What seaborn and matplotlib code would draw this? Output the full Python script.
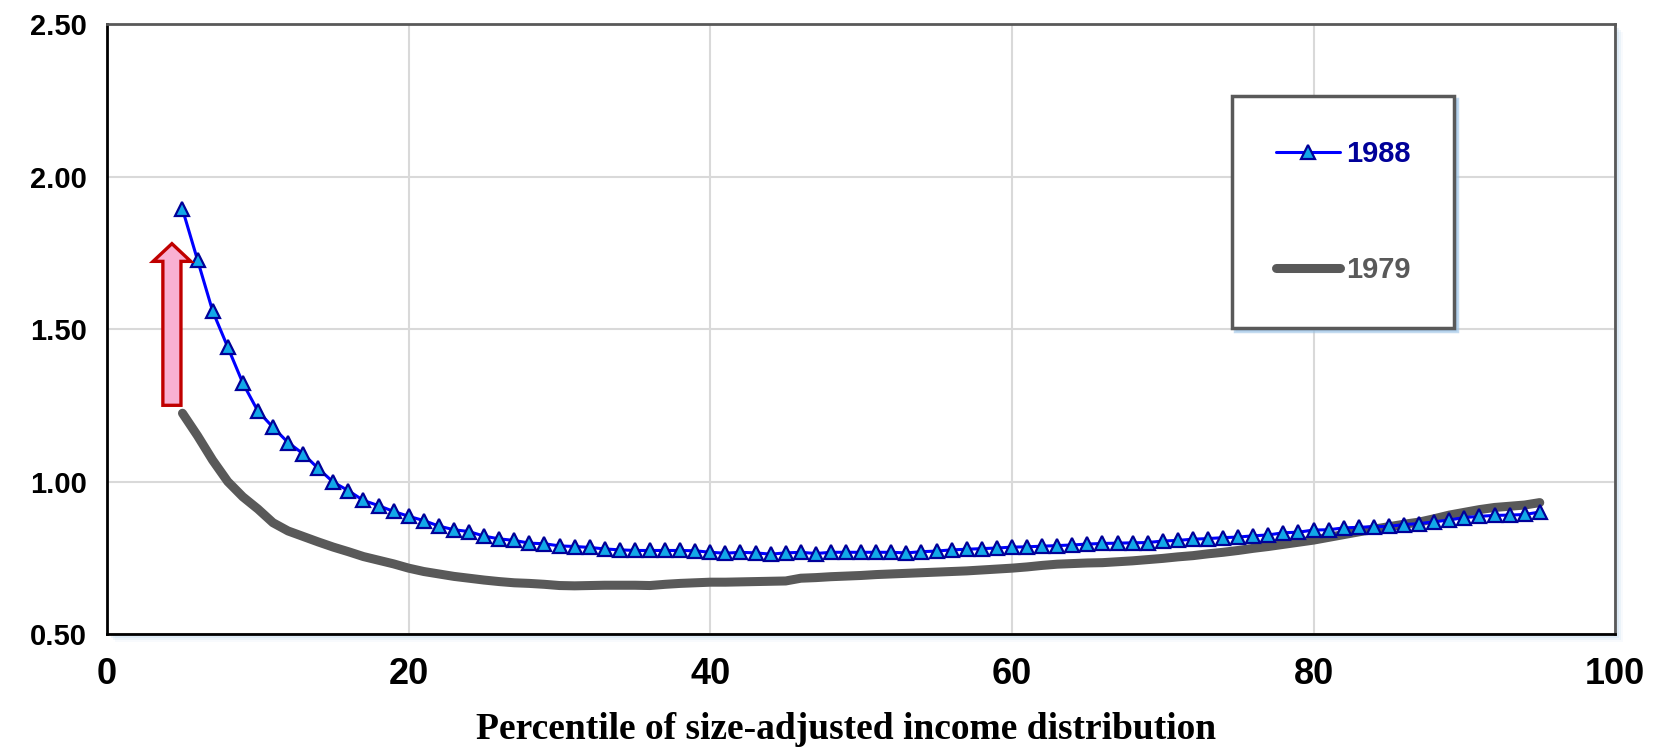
import matplotlib
matplotlib.use("Agg")
import matplotlib.pyplot as plt
from matplotlib.patches import FancyArrow, Rectangle
from matplotlib.ticker import MultipleLocator, FormatStrFormatter
import seaborn as sns
import pandas as pd

# percentiles of the size-adjusted income distribution
pct = list(range(5, 96))

vals_1988 = [
    1.893, 1.726, 1.559, 1.441, 1.323, 1.231, 1.178, 1.128, 1.091, 1.043,
    0.998, 0.970, 0.938, 0.921, 0.902, 0.886, 0.872, 0.854, 0.842, 0.836,
    0.821, 0.812, 0.807, 0.798, 0.796, 0.789, 0.787, 0.784, 0.779, 0.776,
    0.774, 0.774, 0.774, 0.774, 0.773, 0.768, 0.765, 0.768, 0.766, 0.762,
    0.766, 0.768, 0.764, 0.768, 0.768, 0.768, 0.768, 0.768, 0.766, 0.770,
    0.772, 0.776, 0.778, 0.780, 0.782, 0.785, 0.786, 0.788, 0.790, 0.792,
    0.795, 0.797, 0.798, 0.799, 0.800, 0.805, 0.807, 0.811, 0.813, 0.816,
    0.818, 0.822, 0.825, 0.832, 0.834, 0.841, 0.842, 0.848, 0.850, 0.852,
    0.853, 0.859, 0.862, 0.868, 0.874, 0.882, 0.886, 0.889, 0.890, 0.892,
    0.900,
]

vals_1979 = [
    1.224, 1.150, 1.070, 1.000, 0.950, 0.910, 0.865, 0.838, 0.820, 0.802,
    0.785, 0.770, 0.754, 0.742, 0.730, 0.716, 0.705, 0.697, 0.689, 0.683,
    0.677, 0.672, 0.668, 0.666, 0.663, 0.659, 0.658, 0.659, 0.660, 0.660,
    0.660, 0.659, 0.663, 0.666, 0.668, 0.670, 0.670, 0.671, 0.672, 0.673,
    0.674, 0.683, 0.685, 0.688, 0.690, 0.692, 0.695, 0.697, 0.699, 0.701,
    0.703, 0.705, 0.707, 0.710, 0.713, 0.716, 0.720, 0.725, 0.729, 0.731,
    0.733, 0.734, 0.737, 0.740, 0.744, 0.748, 0.753, 0.757, 0.763, 0.768,
    0.774, 0.781, 0.787, 0.794, 0.801, 0.808, 0.817, 0.826, 0.835, 0.844,
    0.852, 0.860, 0.867, 0.878, 0.890, 0.899, 0.908, 0.915, 0.919, 0.923,
    0.931,
]

x_ticks = [0, 20, 40, 60, 80, 100]
y_ticks = [0.50, 1.00, 1.50, 2.00, 2.50]

# arrow marking the rise at the bottom of the distribution
arrow_x = 4.3
arrow_from = 1.25
arrow_to = 1.78

sns.set_style("white")
plt.rcParams["font.family"] = ["Liberation Sans", "DejaVu Sans"]
plt.rcParams["text.color"] = "black"
plt.rcParams["axes.labelcolor"] = "black"
plt.rcParams["xtick.color"] = "black"
plt.rcParams["ytick.color"] = "black"

df88 = pd.DataFrame({"pct": pct, "ratio": vals_1988})
df79 = pd.DataFrame({"pct": pct, "ratio": vals_1979})

fig = plt.figure(figsize=(16.6, 7.53), dpi=100)
ax = fig.add_axes([0.0645, 0.158, 0.9085, 0.810])

# light blue drop shadow right/bottom of plot area
for i, a in enumerate([0.25, 0.18, 0.12, 0.07]):
    off = (i + 1) * 2.0
    fig.patches.append(Rectangle(
        (0.0645 + off / 1660, 0.158 - off / 753), 0.9085, 0.810,
        transform=fig.transFigure, facecolor="#9cc3e6", alpha=a,
        edgecolor="none", zorder=-5))

ax.set_facecolor("white")

sns.lineplot(data=df79, x="pct", y="ratio", ax=ax, color="#595959",
             linewidth=6.5, label="1979", solid_capstyle="round", zorder=3)
sns.lineplot(data=df88, x="pct", y="ratio", ax=ax, color="#0000ff",
             linewidth=2.2, marker="^", markersize=10,
             markerfacecolor="#12a8e8", markeredgecolor="#000099",
             markeredgewidth=1.6, label="1988", zorder=4)

ax.add_patch(FancyArrow(arrow_x, arrow_from, 0, arrow_to - arrow_from,
                        width=1.2, head_width=2.5, head_length=0.058,
                        length_includes_head=True, facecolor="#f9b0d2",
                        edgecolor="#c00000", linewidth=2.4, zorder=5))

ax.set_xlim(0, 100)
ax.set_ylim(0.5, 2.5)
ax.set_xticks(x_ticks)
ax.set_yticks(y_ticks)
ax.xaxis.set_minor_locator(MultipleLocator(5))
ax.yaxis.set_minor_locator(MultipleLocator(0.1))
ax.yaxis.set_major_formatter(FormatStrFormatter("%.2f"))

ax.grid(True, which="major", color="#d9d9d9", linewidth=1.5)
ax.set_axisbelow(True)

ax.tick_params(axis="both", which="major", direction="inout", length=13,
               width=1.5, color="black", labelcolor="black")
ax.tick_params(axis="both", which="minor", direction="in", length=6,
               width=1.5, color="black")
ax.tick_params(axis="y", which="major", labelsize=21, pad=8)
ax.tick_params(axis="x", which="major", labelsize=26, pad=10)
for lab in ax.get_xticklabels() + ax.get_yticklabels():
    lab.set_fontweight("bold")

for side in ["left", "bottom"]:
    ax.spines[side].set_color("black")
    ax.spines[side].set_linewidth(2)
for side in ["top", "right"]:
    ax.spines[side].set_color("#595959")
    ax.spines[side].set_linewidth(2)

ax.set_ylabel("")
ax.set_xlabel("Percentile of size-adjusted income distribution",
              family=["Liberation Serif", "DejaVu Serif"], fontweight="bold",
              fontsize=27, color="black")
ax.xaxis.set_label_coords(0.49, -0.128)

handles, labels = ax.get_legend_handles_labels()
leg = ax.legend(handles[::-1], labels[::-1], loc="upper left",
                bbox_to_anchor=(1232 / 1660, 1 - 96 / 753),
                bbox_transform=fig.transFigure, borderaxespad=0,
                prop={"family": "Liberation Sans", "weight": "bold", "size": 21},
                handlelength=2.2, handletextpad=0.2, borderpad=1.5,
                labelspacing=3.03, fancybox=False, frameon=True,
                shadow={"color": "#9cc3e6", "alpha": 0.6})
leg.get_frame().set_edgecolor("#595959")
leg.get_frame().set_linewidth(2.5)
leg.get_texts()[0].set_color("#000099")
leg.get_texts()[1].set_color("#595959")

fig.savefig("out.png", dpi=100)
